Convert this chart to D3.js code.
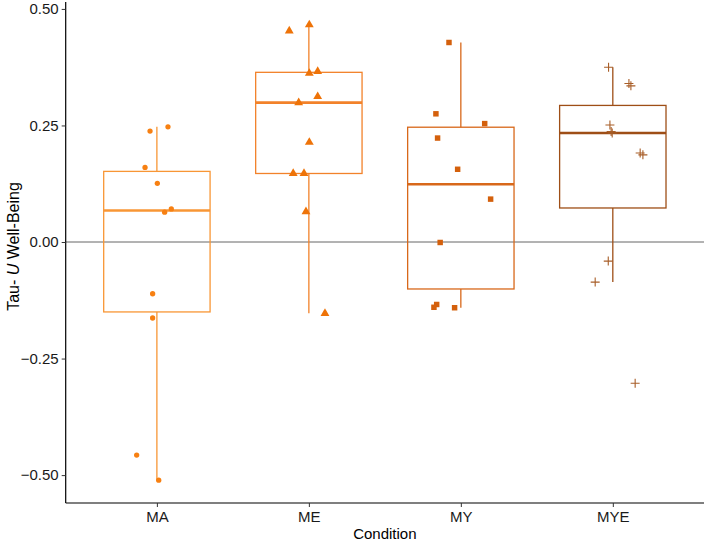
<!DOCTYPE html>
<html>
<head>
<meta charset="utf-8">
<script src="https://cdn.jsdelivr.net/npm/d3@7"></script>
<style>
  html, body { margin: 0; padding: 0; background: #fff; }
  svg { display: block; font-family: "Liberation Sans", Arial, sans-serif; }
</style>
</head>
<body>
<svg id="chart" width="708" height="542"></svg>
<script>
// ---- data ----
const categories = ["MA", "ME", "MY", "MYE"];
const valuesMA  = [0.247, 0.238, 0.160, 0.126, 0.071, 0.064, -0.111, -0.163, -0.457, -0.511];
const jitterMA  = [0.073, -0.045, -0.078, 0.003, 0.095, 0.051, -0.028, -0.028, -0.133, 0.012];
const valuesME  = [0.453, 0.466, 0.362, 0.366, 0.299, 0.312, 0.214, 0.147, 0.147, 0.065, -0.153];
const jitterME  = [-0.129, 0.003, 0.003, 0.058, -0.067, 0.058, 0.003, -0.103, -0.032, -0.019, 0.106];
const valuesMY  = [0.428, 0.275, 0.254, 0.223, 0.156, 0.092, -0.001, -0.134, -0.140, -0.141];
const jitterMY  = [-0.078, -0.164, 0.157, -0.153, -0.021, 0.196, -0.136, -0.159, -0.177, -0.041];
const valuesMYE = [0.375, 0.340, 0.335, 0.251, 0.237, 0.234, 0.191, 0.187, -0.041, -0.086, -0.303];
const jitterMYE = [-0.028, 0.106, 0.119, -0.019, -0.011, -0.004, 0.180, 0.198, -0.030, -0.116, 0.147];
const yTicks = [-0.50, -0.25, 0.00, 0.25, 0.50];
const yTitleMain = "Tau- ";
const yTitleItalic = "U";
const yTitleRest = " Well-Being";
const xTitle = "Condition";

const groups = [
  { cat: "MA",  values: valuesMA,  jitter: jitterMA,  shape: "circle"   },
  { cat: "ME",  values: valuesME,  jitter: jitterME,  shape: "triangle" },
  { cat: "MY",  values: valuesMY,  jitter: jitterMY,  shape: "square"   },
  { cat: "MYE", values: valuesMYE, jitter: jitterMYE, shape: "plus"     }
];
const boxColors   = { MA: "#F89635", ME: "#F2822A", MY: "#D8681A", MYE: "#9E4E16" };
const pointColors = { MA: "#F78012", ME: "#EE7308", MY: "#D4600C", MYE: "#A85E28" };

// ---- layout ----
const svg = d3.select("#chart");
const panel = { left: 65.7, right: 704, top: 2, bottom: 503 };

const allVals = groups.flatMap(g => g.values);
const vmin = d3.min(allVals), vmax = d3.max(allVals);
const pad = (vmax - vmin) * 0.05;
const y = d3.scaleLinear().domain([vmin - pad, vmax + pad]).range([panel.bottom, panel.top]);
const x = d3.scalePoint().domain(categories).range([panel.left, panel.right]).padding(0.6);
const step = x.step();
const boxW = step * 0.7;

// zero reference line
svg.append("line")
  .attr("x1", panel.left).attr("x2", panel.right)
  .attr("y1", y(0)).attr("y2", y(0))
  .attr("stroke", "#555").attr("stroke-width", 0.9);

// boxplots
groups.forEach(g => {
  const s = g.values.slice().sort(d3.ascending);
  const q1 = d3.quantile(s, 0.25), med = d3.quantile(s, 0.5), q3 = d3.quantile(s, 0.75);
  const iqr = q3 - q1;
  const lo = d3.min(s.filter(v => v >= q1 - 1.5 * iqr));
  const hi = d3.max(s.filter(v => v <= q3 + 1.5 * iqr));
  const cx = x(g.cat);
  const col = boxColors[g.cat];
  const gg = svg.append("g");
  gg.append("line").attr("x1", cx).attr("x2", cx).attr("y1", y(hi)).attr("y2", y(q3))
    .attr("stroke", col).attr("stroke-width", 1.3);
  gg.append("line").attr("x1", cx).attr("x2", cx).attr("y1", y(q1)).attr("y2", y(lo))
    .attr("stroke", col).attr("stroke-width", 1.3);
  gg.append("rect").attr("x", cx - boxW / 2).attr("width", boxW)
    .attr("y", y(q3)).attr("height", y(q1) - y(q3))
    .attr("fill", "none").attr("stroke", col).attr("stroke-width", 1.3);
  gg.append("line").attr("x1", cx - boxW / 2).attr("x2", cx + boxW / 2)
    .attr("y1", y(med)).attr("y2", y(med))
    .attr("stroke", col).attr("stroke-width", 2.6);
});

// jittered points
const symCircle = d3.symbol().type(d3.symbolCircle).size(22);
const symTri = d3.symbol().type(d3.symbolTriangle).size(34);
const symSq = d3.symbol().type(d3.symbolSquare).size(30);
groups.forEach(g => {
  const col = pointColors[g.cat];
  const gg = svg.append("g");
  g.values.forEach((v, i) => {
    const px = x(g.cat) + g.jitter[i] * step;
    const py = y(v);
    if (g.shape === "plus") {
      gg.append("path")
        .attr("d", `M${px - 4.5},${py}H${px + 4.5}M${px},${py - 4.5}V${py + 4.5}`)
        .attr("stroke", col).attr("stroke-width", 1.1).attr("fill", "none");
    } else {
      const sym = g.shape === "circle" ? symCircle : g.shape === "triangle" ? symTri : symSq;
      gg.append("path").attr("d", sym()).attr("transform", `translate(${px},${py})`)
        .attr("fill", col);
    }
  });
});

// axes
const yAxis = d3.axisLeft(y).tickValues(yTicks).tickFormat(d3.format(".2f")).tickSize(4).tickPadding(3);
const yg = svg.append("g").attr("transform", `translate(${panel.left},0)`).call(yAxis);
yg.select(".domain").attr("d", `M0,${panel.top}V${panel.bottom}`).attr("stroke", "#000").attr("stroke-width", 1.2);
yg.selectAll(".tick line").attr("stroke", "#333").attr("stroke-width", 1);
yg.selectAll(".tick text").attr("font-size", 15).attr("fill", "#1a1a1a")
  .attr("font-family", "Liberation Sans, Arial, sans-serif");

const xAxis = d3.axisBottom(x).tickSize(4).tickPadding(4);
const xg = svg.append("g").attr("transform", `translate(0,${panel.bottom})`).call(xAxis);
xg.select(".domain").attr("d", `M${panel.left},0H${panel.right}`).attr("stroke", "#000").attr("stroke-width", 1.2);
xg.selectAll(".tick line").attr("stroke", "#333").attr("stroke-width", 1);
xg.selectAll(".tick text").attr("font-size", 15).attr("fill", "#1a1a1a")
  .attr("font-family", "Liberation Sans, Arial, sans-serif");

// axis titles
svg.append("text").attr("x", (panel.left + panel.right) / 2).attr("y", 539)
  .attr("text-anchor", "middle").attr("font-size", 15).attr("fill", "#000").text(xTitle);

const yt = svg.append("text")
  .attr("transform", `translate(19,${(panel.top + panel.bottom) / 2 - 6}) rotate(-90)`)
  .attr("text-anchor", "middle").attr("font-size", 16).attr("fill", "#000");
yt.append("tspan").text(yTitleMain);
yt.append("tspan").attr("font-style", "italic").text(yTitleItalic);
yt.append("tspan").text(yTitleRest);
</script>
</body>
</html>
